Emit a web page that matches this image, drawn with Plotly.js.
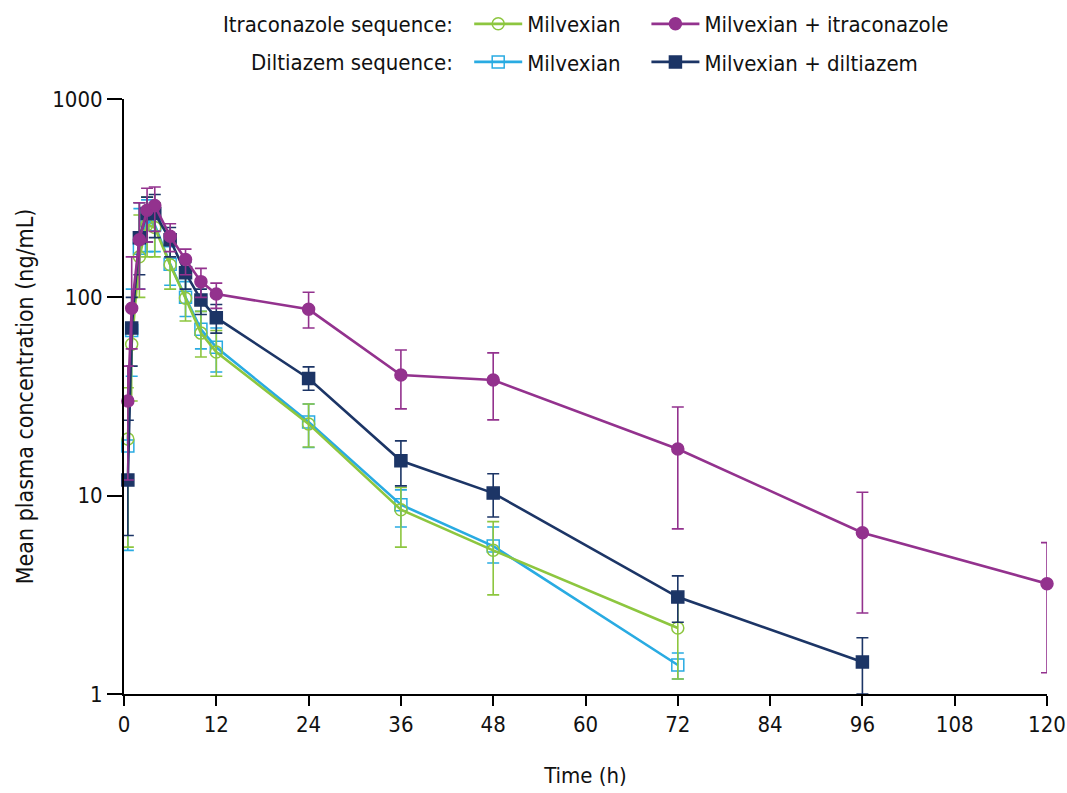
<!DOCTYPE html>
<html>
<head>
<meta charset="utf-8">
<script src="https://cdn.plot.ly/plotly-3.0.1.min.js"></script>
<style>
html,body{margin:0;padding:0;background:#fff}
#chart{width:1067px;height:793px}
#chart text{font-stretch:condensed !important;}
</style>
</head>
<body>
<div id="chart"></div>
<script>
// Time points (h)
const timeItra = [0.5, 1, 2, 3, 4, 6, 8, 10, 12, 24, 36, 48, 72, 96, 120];
const timeDilt = [0.5, 1, 2, 3, 4, 6, 8, 10, 12, 24, 36, 48, 72, 96];
const timeMilv = [0.5, 1, 2, 3, 4, 6, 8, 10, 12, 24, 36, 48, 72];

// Itraconazole sequence: Milvexian alone (mean, lower, upper)
const itraMilvMean  = [19.3, 58, 160, 232, 225, 146, 99, 66, 53, 23, 8.5, 5.3, 2.15];
const itraMilvLower = [5.5, 30, 100, 160, 160, 110, 76, 50, 40, 17.6, 5.5, 3.16, 1.19];
const itraMilvUpper = [35, 90, 260, 320, 300, 185, 125, 85, 68, 29, 11, 7.4, 3.08];

// Itraconazole sequence: Milvexian + itraconazole
const itraComboMean  = [30, 88, 195, 275, 290, 203, 155, 120, 104, 87, 40.6, 38.3, 17.2, 6.5, 3.6];
const itraComboLower = [12, 55, 110, 190, 215, 170, 130, 100, 88, 70, 27.4, 24.1, 6.8, 2.56, 1.28];
const itraComboUpper = [45, 160, 300, 355, 360, 235, 175, 140, 118, 106, 54.3, 52.5, 28, 10.4, 5.8];

// Diltiazem sequence: Milvexian alone
const diltMilvMean  = [17.8, 68, 177, 244, 232, 147, 100, 69, 56, 23.5, 9.0, 5.57, 1.40];
const diltMilvLower = [5.3, 40, 110, 170, 170, 115, 80, 55, 42, 17.5, 6.95, 4.58, 1.19];
const diltMilvUpper = [30, 110, 280, 310, 300, 180, 120, 85, 70, 29, 10.7, 6.95, 1.61];

// Diltiazem sequence: Milvexian + diltiazem
const diltComboMean  = [12, 70, 200, 265, 265, 195, 133, 97, 79, 39, 15, 10.3, 3.08, 1.45];
const diltComboLower = [6.3, 45, 130, 190, 200, 160, 110, 82, 66, 34, 11.2, 7.8, 2.3, 1.0];
const diltComboUpper = [24, 100, 300, 320, 330, 225, 150, 110, 92, 44.6, 18.9, 12.9, 3.94, 1.92];

const xTicks = [0, 12, 24, 36, 48, 60, 72, 84, 96, 108, 120];
const yTicks = [1, 10, 100, 1000];

const FONT = '"DejaVu Sans Condensed", "Liberation Sans Narrow", "DejaVu Sans", sans-serif';

function errs(mean, lo, up) {
  return {
    type: 'data', symmetric: false,
    array: up.map((u, i) => u - mean[i]),
    arrayminus: mean.map((m, i) => m - lo[i])
  };
}

function trace(x, mean, lo, up, name, color, symbol, legend) {
  const e = errs(mean, lo, up);
  e.color = color; e.thickness = 1.6; e.width = 6;
  return {
    x: x, y: mean, name: name, type: 'scatter', mode: 'lines+markers',
    line: {color: color, width: 2.6},
    marker: {color: color, symbol: symbol, size: 12,
             line: {color: color, width: 1.5}},
    error_y: e, cliponaxis: false, legend: legend
  };
}

const traces = [
  trace(timeMilv, diltMilvMean, diltMilvLower, diltMilvUpper, 'Milvexian', '#29abe2', 'square-open', 'legend3'),
  trace(timeMilv, itraMilvMean, itraMilvLower, itraMilvUpper, 'Milvexian', '#8dc63f', 'circle-open', 'legend'),
  trace(timeDilt, diltComboMean, diltComboLower, diltComboUpper, 'Milvexian + diltiazem', '#1c3566', 'square', 'legend4'),
  trace(timeItra, itraComboMean, itraComboLower, itraComboUpper, 'Milvexian + itraconazole', '#93328e', 'circle', 'legend2')
];

function leg(x, y) {
  return {
    orientation: 'h', xanchor: 'left', yanchor: 'middle', x: x, y: y,
    font: {family: FONT, size: 22, color: '#111'},
    bgcolor: 'rgba(0,0,0,0)', borderwidth: 0, itemwidth: 48,
    itemclick: false, itemdoubleclick: false
  };
}

const row1 = 1.126, row2 = 1.062;
const layout = {
  width: 1067, height: 793,
  margin: {l: 124, r: 20, t: 99, b: 99, autoexpand: false},
  paper_bgcolor: '#fff', plot_bgcolor: '#fff',
  font: {family: FONT, size: 22, color: '#111'},
  showlegend: true,
  legend: leg(0.374, row1),
  legend2: leg(0.566, row1),
  legend3: leg(0.374, row2),
  legend4: leg(0.566, row2),
  xaxis: {
    range: [0, 120], tickvals: xTicks, ticktext: xTicks.map(String),
    showline: true, linecolor: '#000', linewidth: 2,
    ticks: 'outside', ticklen: 10, tickwidth: 2, tickcolor: '#000',
    showgrid: false, zeroline: false,
    tickfont: {family: FONT, size: 22, color: '#111'},
    title: {text: 'Time (h)', font: {family: FONT, size: 22, color: '#111'}, standoff: 31}
  },
  yaxis: {
    type: 'log', range: [0, 3], tickvals: yTicks, ticktext: yTicks.map(String),
    showline: true, linecolor: '#000', linewidth: 2,
    ticks: 'outside', ticklen: 15, tickwidth: 2, tickcolor: '#000',
    showgrid: false, zeroline: false,
    tickfont: {family: FONT, size: 22, color: '#111'},
    title: {text: 'Mean plasma concentration (ng/mL)', font: {family: FONT, size: 23, color: '#111'}, standoff: 12}
  },
  annotations: [
    {text: 'Itraconazole sequence:', xref: 'paper', yref: 'paper', x: 0.3586, y: row1,
     xanchor: 'right', yanchor: 'middle', showarrow: false, font: {family: FONT, size: 22, color: '#111'}},
    {text: 'Diltiazem sequence:', xref: 'paper', yref: 'paper', x: 0.3586, y: row2,
     xanchor: 'right', yanchor: 'middle', showarrow: false, font: {family: FONT, size: 22, color: '#111'}}
  ]
};

Plotly.newPlot('chart', traces, layout, {displayModeBar: false, staticPlot: true});
</script>
</body>
</html>
